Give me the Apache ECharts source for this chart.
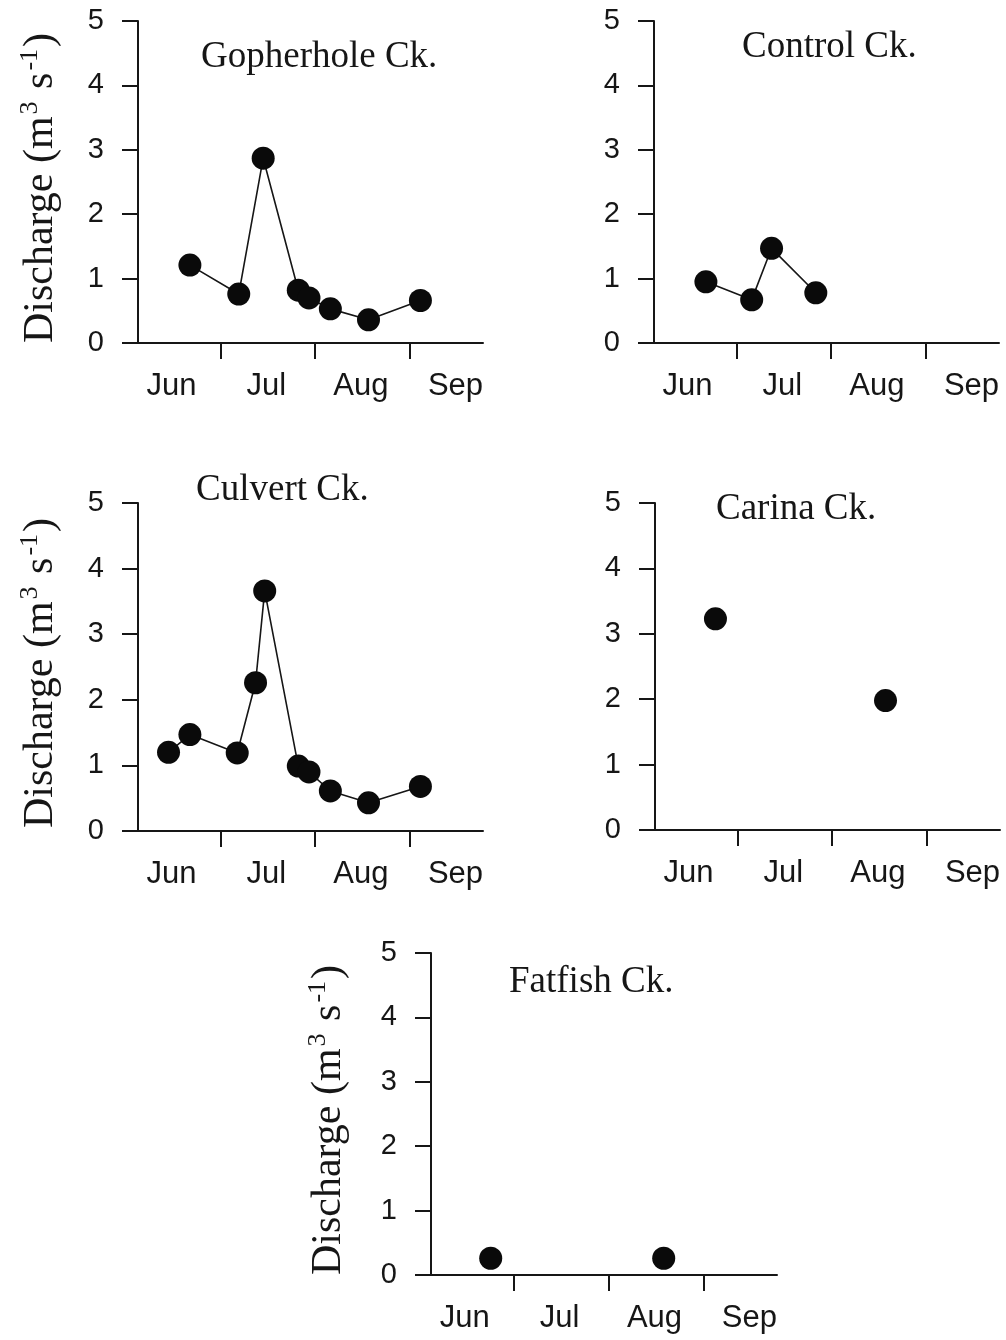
<!DOCTYPE html>
<html>
<head>
<meta charset="utf-8">
<script src="https://cdn.jsdelivr.net/npm/echarts@6/dist/echarts.min.js"></script>
<style>
  html, body { margin: 0; padding: 0; background: #ffffff; }
  #chart { width: 1006px; height: 1340px; }
</style>
</head>
<body>
<div id="chart"></div>
<script>
// Time axis: days counted from 1 June. Discharge in m3 s-1.
const monthNames = ['Jun', 'Jul', 'Aug', 'Sep'];
const monthLabelDays = [14, 45, 76, 107];   // label sits mid-month
const monthStartDays = [30, 61, 92];        // ticks on 1 Jul, 1 Aug, 1 Sep
const dayMin = 3;
const dayMax = 116;

const gopherholeDays = [20, 36, 44, 55.5, 59, 66, 78.5, 95.5];
const gopherholeQ    = [1.21, 0.76, 2.87, 0.82, 0.70, 0.53, 0.36, 0.66];

const controlDays = [20, 35, 41.5, 56];
const controlQ    = [0.95, 0.67, 1.47, 0.78];

const culvertDays = [13, 20, 35.5, 41.5, 44.5, 55.5, 59, 66, 78.5, 95.5];
const culvertQ    = [1.20, 1.47, 1.19, 2.26, 3.66, 0.99, 0.90, 0.61, 0.43, 0.68];

const carinaDays = [22.8, 78.5];
const carinaQ    = [3.23, 1.98];

const fatfishDays = [22.5, 79];
const fatfishQ    = [0.26, 0.26];

const pair = (xs, ys) => xs.map((x, i) => [x, ys[i]]);

const SANS = '"Liberation Sans", Arial, sans-serif';
const SERIF = '"Liberation Serif", "Times New Roman", serif';
const INK = '#161616';

// Panel layout (pixels)
const panels = [
  { title: 'Gopherhole Ck.', data: pair(gopherholeDays, gopherholeQ), joined: true,
    grid: { left: 138, top: 21, width: 345, height: 322 }, yName: true, nameGap: 73,
    titlePos: { left: 201, top: 39 } },
  { title: 'Control Ck.', data: pair(controlDays, controlQ), joined: true,
    grid: { left: 654, top: 21, width: 345, height: 322 }, yName: false,
    titlePos: { left: 742, top: 29 } },
  { title: 'Culvert Ck.', data: pair(culvertDays, culvertQ), joined: true,
    grid: { left: 138, top: 503, width: 345, height: 328 }, yName: true, nameGap: 73,
    titlePos: { left: 196, top: 472 } },
  { title: 'Carina Ck.', data: pair(carinaDays, carinaQ), joined: false,
    grid: { left: 655, top: 503, width: 345, height: 327 }, yName: false,
    titlePos: { left: 716, top: 491 } },
  { title: 'Fatfish Ck.', data: pair(fatfishDays, fatfishQ), joined: false,
    grid: { left: 431, top: 953, width: 346, height: 322 }, yName: true, nameGap: 78,
    titlePos: { left: 509, top: 964 } }
];

const option = {
  backgroundColor: '#ffffff',
  animation: false,
  title: panels.map(p => ({
    text: p.title,
    left: p.titlePos.left,
    top: p.titlePos.top,
    padding: 0,
    textStyle: { fontFamily: SERIF, fontSize: 37, fontWeight: 'normal', color: INK }
  })),
  grid: panels.map(p => Object.assign({ containLabel: false }, p.grid)),
  xAxis: panels.map((p, i) => ({
    type: 'value',
    gridIndex: i,
    min: dayMin,
    max: dayMax,
    splitLine: { show: false },
    axisLine: { show: true, onZero: false, lineStyle: { color: INK, width: 2 } },
    axisTick: {
      show: true, inside: false, length: 16,
      customValues: monthStartDays,
      lineStyle: { color: INK, width: 2 }
    },
    axisLabel: {
      show: true,
      customValues: monthLabelDays,
      margin: 28,
      fontFamily: SANS, fontSize: 31, color: INK,
      formatter: v => monthNames[monthLabelDays.indexOf(v)] || ''
    }
  })),
  yAxis: panels.map((p, i) => ({
    type: 'value',
    gridIndex: i,
    min: 0,
    max: 5,
    interval: 1,
    splitLine: { show: false },
    axisLine: { show: true, lineStyle: { color: INK, width: 2 } },
    axisTick: { show: true, inside: false, length: 16, lineStyle: { color: INK, width: 2 } },
    axisLabel: { margin: 34, fontFamily: SANS, fontSize: 29, color: INK },
    name: p.yName ? 'Discharge (m{sup|3} s{sup|-1})' : '',
    nameLocation: 'middle',
    nameRotate: 90,
    nameGap: p.nameGap || 70,
    nameTextStyle: {
      fontFamily: SERIF, fontSize: 42, color: INK,
      padding: [0, 12, 0, 0],
      rich: {
        sup: { fontFamily: SERIF, fontSize: 26, color: INK, verticalAlign: 'top', padding: [0, 2, 22, 2] }
      }
    }
  })),
  series: panels.map((p, i) => ({
    type: p.joined ? 'line' : 'scatter',
    xAxisIndex: i,
    yAxisIndex: i,
    data: p.data,
    symbol: 'circle',
    symbolSize: 23,
    showSymbol: true,
    itemStyle: { color: '#0a0a0a', opacity: 1 },
    lineStyle: { color: INK, width: 1.6 },
    z: 3
  }))
};

const chart = echarts.init(document.getElementById('chart'), null, { renderer: 'canvas' });
chart.setOption(option);
</script>
</body>
</html>
